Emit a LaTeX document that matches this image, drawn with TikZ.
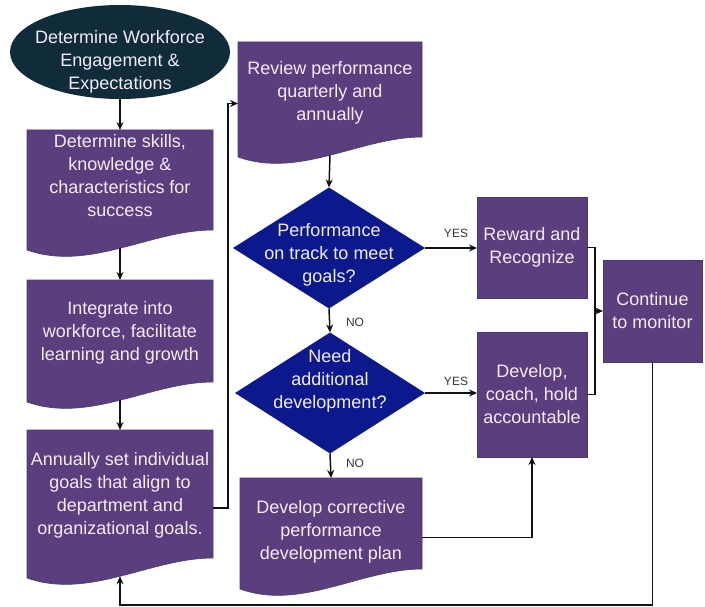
\documentclass[tikz,border=0pt]{standalone}
\usepackage{fontspec}
\setmainfont{Liberation Sans}
\usetikzlibrary{shapes.geometric,arrows.meta,calc}

\definecolor{boxfill}{RGB}{91,62,125}
\definecolor{boxedge}{RGB}{72,58,118}
\definecolor{startfill}{RGB}{16,44,58}
\definecolor{decfill}{RGB}{12,25,140}
\definecolor{boxtxt}{RGB}{242,236,248}
\definecolor{labtxt}{RGB}{55,55,55}
\definecolor{linecol}{RGB}{17,17,17}

\tikzset{
  frame/.style={rectangle, draw=none, inner sep=0pt, outer sep=0pt},
  boxtext/.style={text=boxtxt, align=center, font=\fontsize{18}{23}\selectfont, inner sep=0pt},
  procbox/.style={rectangle, fill=boxfill, draw=boxedge, line width=0.6pt, inner sep=0pt, outer sep=0pt,
    anchor=north west, text=boxtxt, align=center, font=\fontsize{18}{23}\selectfont},
  decision/.style={diamond, fill=decfill, draw=none, inner sep=0pt, outer sep=0pt},
  arr/.style={draw=linecol, line width=1.5pt, -{Stealth[length=8pt,width=7pt]}},
  plain/.style={draw=linecol, line width=1.5pt},
  lab/.style={text=labtxt, font=\fontsize{12}{14}\selectfont, inner sep=0pt}
}

% document shape: name, x1, y1, x2, bottom, text centre y, text
\newcommand\docbox[7]{%
  \node[frame, minimum width={(#4-#2)*1pt}, minimum height={(#5-#3)*1pt}, anchor=north west] (#1) at (#2,#3) {};
  \filldraw[fill=boxfill, draw=boxedge, line width=0.6pt] (#2,#3) -- (#4,#3) -- (#4,{#5-28})
    .. controls ({#2+2*(#4-#2)/3},{#5-28}) and ({#2+(#4-#2)/3},{#5+14}) ..
    coordinate[pos=0.5] (#1-w) (#2,{#5-8}) -- cycle;
  \node[boxtext] (#1-t) at ({(#2+#4)/2},#6) {#7};
}

\begin{document}
\begin{tikzpicture}[x=1pt,y=-1pt]
  \fill[white] (0,0) rectangle (705,607);
  \useasboundingbox (0,0) rectangle (705,607);

  % start
  \node[ellipse, fill=startfill, draw=none, minimum width=220pt, minimum height=94pt, inner sep=0pt] (start) at (120,52) {};
  \node[boxtext] (start-t) at (120,62) {Determine Workforce\\Engagement \&\\Expectations};

  % left column
  \docbox{skills}{27}{130}{213}{258}{176}{Determine skills,\\knowledge \&\\characteristics for\\success}
  \docbox{integ}{27}{280}{213}{410}{333}{Integrate into\\workforce, facilitate\\learning and growth}
  \docbox{goals}{27}{430}{213}{586}{495}{Annually set individual\\goals that align to\\department and\\organizational goals.}

  % middle column
  \docbox{review}{238}{42}{422}{165}{93}{Review performance\\quarterly and\\annually}
  \node[decision, minimum width=192pt, minimum height=121pt] (d1) at (329,248) {};
  \node[boxtext] (d1-t) at (329,255) {Performance\\on track to meet\\goals?};
  \node[decision, minimum width=190pt, minimum height=121pt] (d2) at (330,393) {};
  \node[boxtext] (d2-t) at (330,381) {Need\\additional\\development?};
  \docbox{corr}{240}{478}{422}{597}{532}{Develop corrective\\performance\\development plan};

  % right column
  \node[procbox, minimum width=110pt, minimum height=101pt] (reward) at (477,197) {Reward and\\Recognize};
  \node[procbox, minimum width=110pt, minimum height=125pt] (develop) at (477,332) {Develop,\\coach, hold\\accountable};
  \node[procbox, minimum width=99pt, minimum height=102pt] (cont) at (603,260) {Continue\\to monitor};

  % connectors
  \draw[arr] (start.south) -- (skills.north);
  \draw[arr] (skills-w) -- (integ.north);
  \draw[arr] (integ-w) -- (goals.north);
  \draw[arr] (goals.east) -- ++(15,0) |- (review.west);
  \draw[arr] (review-w) -- (d1.north);
  \draw[arr] (d1.east) -- (d1.east -| reward.west);
  \node[lab] (yes1) at (456,233) {YES};
  \draw[arr] (d1.south) -- (d2.north);
  \node[lab] (no1) at (355,322) {NO};
  \draw[arr] (d2.east) -- (d2.east -| develop.west);
  \node[lab] (yes2) at (456,381) {YES};
  \draw[arr] (d2.south) -- (corr.north);
  \node[lab] (no2) at (355,463) {NO};
  \draw[arr] (corr.east) -| (develop.south);

  \coordinate (join) at ([xshift=-8pt]cont.west);
  \draw[plain] (reward.east) -| (join) |- (develop.east);
  \draw[arr] (join) -- (cont.west);

  \coordinate (base) at (120,605);
  \draw[arr] (cont.south) |- (base) -- (goals-w);
\end{tikzpicture}
\end{document}
